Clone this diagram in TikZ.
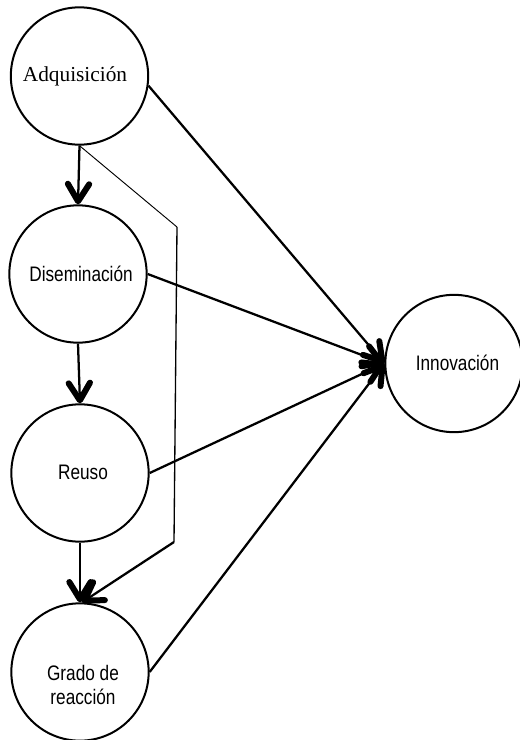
\documentclass[tikz,border=0pt]{standalone}
\usepackage{fontspec}
\setmainfont{Liberation Serif}
\newfontfamily\narrowsans[FakeStretch=0.82]{Liberation Sans}
\usetikzlibrary{arrows.meta}
\begin{document}
\begin{tikzpicture}[x=0.75pt,y=-0.75pt,
 circ/.style={circle, draw, line width=1.5pt, minimum size=103pt, inner sep=0pt},
 lbl/.style={font=\narrowsans\fontsize{15.75}{18}\selectfont, align=center, inner sep=0pt},
 serlbl/.style={font=\fontsize{16}{19}\selectfont, inner sep=0pt},
 arr/.style={line width=1.7pt, -{Straight Barb[length=13pt,width=16pt,line width=4.5pt,round]}},
 thinl/.style={line width=0.7pt},
 midl/.style={line width=1pt}]
\useasboundingbox (0,0) rectangle (520,740);
\clip (0,0) rectangle (520,740);
\node[circ] (adq) at (79.5,76) {};
\node[circ] (dis) at (78,274) {};
\node[circ] (reu) at (80,473) {};
\node[circ] (gra) at (80,672) {};
\node[circ] (inn) at (454,363.5) {};
\node[serlbl] (tadq) at (75,76) {Adquisición};
\node[lbl] (tdis) at (81,274) {Diseminación};
\node[lbl] (treu) at (83,472) {Reuso};
\node[lbl] (tinn) at (457.5,363) {Innovación};
\node[lbl] (tgra) at (83,685) {Grado de\\reacción};
\coordinate (k1) at (177,227);
\coordinate (k2) at (174,542);
\draw[arr] (adq.south) -- (dis.north);
\draw[arr] (dis.south) -- (reu.north);
\draw[arr] (reu.south) -- (gra.north);
\draw[thinl] (adq.south) -- (k1);
\draw[midl] (k1) -- (k2);
\draw[arr] (k2) -- ([xshift=1.5]gra.north);
\draw[arr] (adq.-8) -- (inn.west);
\draw[arr] (dis.east) -- (inn.west);
\draw[arr] (reu.east) -- (inn.west);
\draw[arr] (gra.east) -- (inn.west);
\end{tikzpicture}
\end{document}
